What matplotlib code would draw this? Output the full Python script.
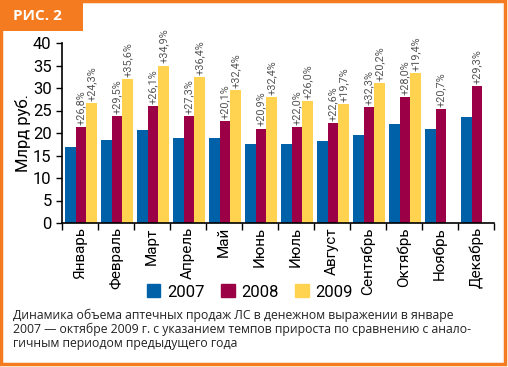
"""
Рис. 2: объем аптечных продаж ЛС по месяцам, 2007-2009
"""

import numpy as np
import matplotlib.pyplot as plt
import matplotlib.patches as mpatches

plt.rcParams['font.family'] = ['Roboto', 'DejaVu Sans']

months = ['Январь', 'Февраль', 'Март', 'Апрель', 'Май', 'Июнь',
          'Июль', 'Август', 'Сентябрь', 'Октябрь', 'Ноябрь', 'Декабрь']
sales_2007 = [16.8, 18.4, 20.6, 18.8, 18.8, 17.5, 17.5, 18.2, 19.6, 21.9, 21.0, 23.6]
sales_2008 = [21.3, 23.8, 25.9, 23.8, 22.6, 21.0, 21.3, 22.2, 25.7, 27.9, 25.3, 30.4]
sales_2009 = [26.6, 31.9, 35.0, 32.4, 29.6, 28.0, 27.1, 26.4, 31.1, 33.3, np.nan, np.nan]
growth_2008 = ['+26,8%', '+29,5%', '+26,1%', '+27,3%', '+20,1%', '+20,9%',
               '+22,0%', '+22,6%', '+32,3%', '+28,0%', '+20,7%', '+29,3%']
growth_2009 = ['+24,3%', '+35,6%', '+34,9%', '+36,4%', '+32,4%', '+32,4%',
               '+26,0%', '+19,7%', '+20,2%', '+19,4%', '', '']

C07, C08, C09 = '#0061a9', '#9b0047', '#ffd24f'
ORANGE = '#f47b20'

fig = plt.figure(figsize=(5.08, 3.67), dpi=100)

# Rahmen + Reiter
fig.patches.append(mpatches.Rectangle((0.002, 0.008), 0.993, 0.989, transform=fig.transFigure,
                                      fill=False, edgecolor=ORANGE, linewidth=2.5))
fig.patches.append(mpatches.Rectangle((0, 1 - 31 / 367), 83 / 508, 31 / 367, transform=fig.transFigure,
                                      facecolor=ORANGE, edgecolor='none'))
fig.text(13 / 508, 1 - 16 / 367, 'РИС. 2', color='white', fontsize=11, fontweight='bold',
         va='center', ha='left', family=['Open Sans', 'DejaVu Sans'])

ax = fig.add_axes([62 / 508, 1 - 223 / 367, 432 / 508, 180 / 367])

x = np.arange(len(months))
w = 0.29
ax.bar(x - w + 0.03, sales_2007, w, color=C07)
ax.bar(x + 0.03, sales_2008, w, color=C08)
ax.bar(x + w + 0.03, sales_2009, w, color=C09)

for i in range(len(months)):
    ax.text(x[i] + 0.03, sales_2008[i] + 0.5, growth_2008[i], rotation=90, ha='center', va='bottom',
            fontsize=7.8, color='#555555')
    if growth_2009[i]:
        ax.text(x[i] + w + 0.03, sales_2009[i] + 0.5, growth_2009[i], rotation=90, ha='center',
                va='bottom', fontsize=7.8, color='#555555')

ax.set_xlim(-0.5, 11.5)
ax.set_ylim(0, 40)
ax.set_yticks(range(0, 41, 5))
ax.set_xticks(np.arange(-0.5, 12, 1))
ax.set_xticklabels([])
ax.set_xticks(x, minor=True)
ax.set_xticklabels(months, minor=True, rotation=90, fontsize=11)
ax.tick_params(axis='x', which='major', length=5, direction='out', width=1)
ax.tick_params(axis='x', which='minor', length=0, pad=3)
ax.tick_params(axis='y', length=4, width=1, labelsize=12)
for s in ['top', 'right']:
    ax.spines[s].set_visible(False)
ax.spines['left'].set_linewidth(1.2)
ax.spines['bottom'].set_linewidth(1.2)
ax.set_ylabel('Млрд руб.', fontsize=12)
ax.yaxis.set_label_coords(-0.072, 0.5)

handles = [mpatches.Patch(color=c) for c in (C07, C08, C09)]
fig.legend(handles, ['2007', '2008', '2009'], loc='center', bbox_to_anchor=(250 / 508, 1 - 292 / 367),
           ncol=3, frameon=False, fontsize=12, handlelength=0.8, handleheight=0.8,
           handletextpad=0.4, columnspacing=1.0)

fig.text(13 / 508, 1 - 309 / 367,
         'Динамика объема аптечных продаж ЛС в денежном выражении в январе\n'
         '2007 — октябре 2009 г. с указанием темпов прироста по сравнению с анало-\n'
         'гичным периодом предыдущего года',
         fontsize=8.85, va='top', ha='left', linespacing=1.05, color='#222222',
         family=['Open Sans', 'DejaVu Sans'])

plt.savefig('out.png', dpi=100)
